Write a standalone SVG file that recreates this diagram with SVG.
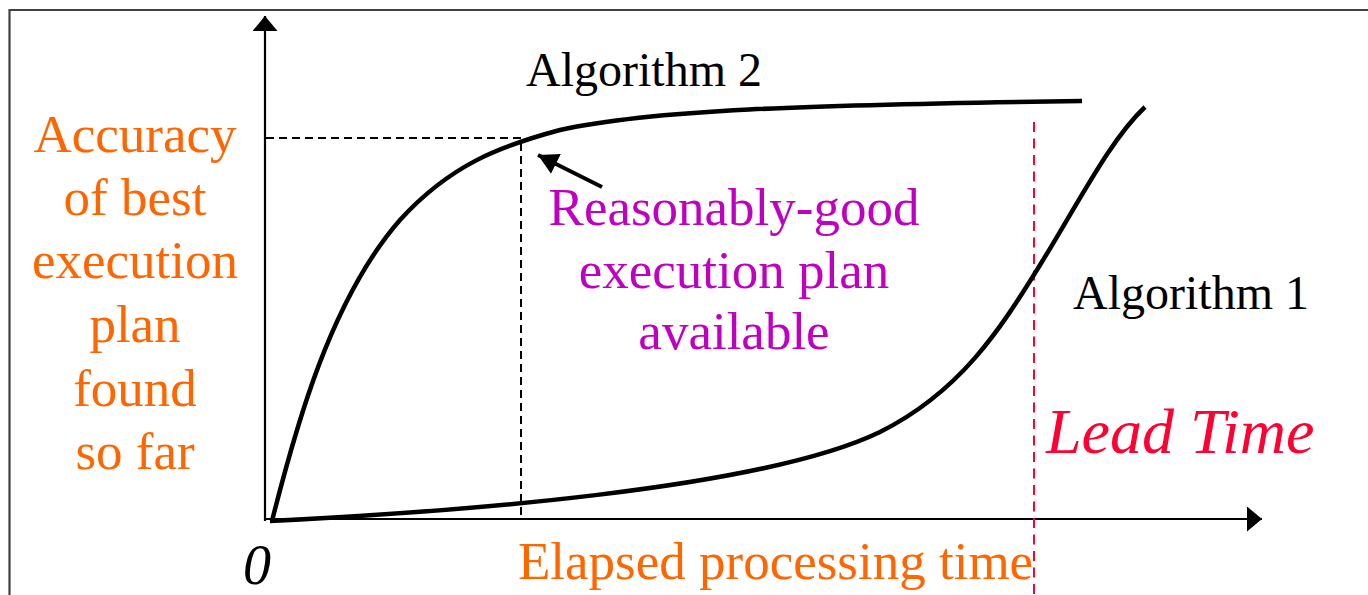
<svg xmlns="http://www.w3.org/2000/svg" width="1368" height="595" viewBox="0 0 1368 595">
  <style>
    text { font-family: "Liberation Serif", "Times New Roman", serif; }
    .axis { stroke: #000; stroke-width: 2.2; fill: none; }
    .curve { stroke: #000; stroke-width: 4.5; fill: none; stroke-linecap: butt; }
    .guide { stroke: #000; stroke-width: 2; fill: none; stroke-dasharray: 8 5; }
    .lead { stroke: #FF0033; stroke-width: 2; fill: none; stroke-dasharray: 10 6.5; }
    .orange { fill: #FF6600; font-size: 53px; }
    .magenta { fill: #C000C0; font-size: 53px; }
    .label { fill: #000; font-size: 48px; }
  </style>
  <defs>
    <marker id="head" viewBox="0 0 15 25" refX="15" refY="12.5" markerWidth="15" markerHeight="25" markerUnits="userSpaceOnUse" orient="auto">
      <path d="M0,0 L15,12.5 L0,25 Z" fill="#000"/>
    </marker>
    <marker id="pointer" viewBox="0 0 20 22" refX="20" refY="11" markerWidth="20" markerHeight="22" markerUnits="userSpaceOnUse" orient="auto">
      <path d="M0,0 L20,11 L0,22 Z" fill="#000"/>
    </marker>
  </defs>

  <rect width="1368" height="595" fill="#fff"/>
  <!-- frame -->
  <path d="M9.5,600 V10 H1370" fill="none" stroke="#404040" stroke-width="2.2"/>

  <g id="connectors">
    <!-- axes -->
    <line class="axis" x1="265" y1="521" x2="265" y2="16" marker-end="url(#head)"/>
    <line class="axis" x1="264" y1="519" x2="1262" y2="519" marker-end="url(#head)"/>
    <!-- reference guides -->
    <path class="guide" d="M266,138 H521 V519"/>
    <line class="lead" x1="1034" y1="122" x2="1034" y2="595"/>
    <!-- pointer to the reasonably-good plan -->
    <line x1="602" y1="187" x2="538" y2="155" stroke="#000" stroke-width="4" marker-end="url(#pointer)"/>
  </g>

  <g id="algorithm2">
    <path class="curve" d="M272,521 C295,430 330,300 400,220 C450,165 500,146 560,130 C650,110 800,105 1082,101"/>
    <text class="label" x="526" y="86">Algorithm 2</text>
  </g>

  <g id="algorithm1">
    <path class="curve" d="M270,521 C450,512 760,490 880,432 C960,392 1000,330 1040,265 C1080,200 1110,140 1145,107"/>
    <text class="label" x="1073" y="309" font-size="47.5">Algorithm 1</text>
  </g>

  <g id="y-label" class="orange" text-anchor="middle">
    <text x="135" y="152">Accuracy</text>
    <text x="135" y="215">of best</text>
    <text x="135" y="278">execution</text>
    <text x="135" y="342">plan</text>
    <text x="135" y="406">found</text>
    <text x="135" y="469">so far</text>
  </g>

  <g id="plan-note" class="magenta" text-anchor="middle">
    <text x="734" y="225">Reasonably-good</text>
    <text x="734" y="288">execution plan</text>
    <text x="734" y="349">available</text>
  </g>

  <g id="x-label">
    <text class="orange" x="518" y="579">Elapsed processing time</text>
  </g>

  <g id="origin">
    <text x="243" y="584" font-size="56" font-style="italic" fill="#000">0</text>
  </g>

  <g id="lead-time">
    <text x="1046" y="453" font-size="64" font-style="italic" fill="#FF0033">Lead Time</text>
  </g>
</svg>
